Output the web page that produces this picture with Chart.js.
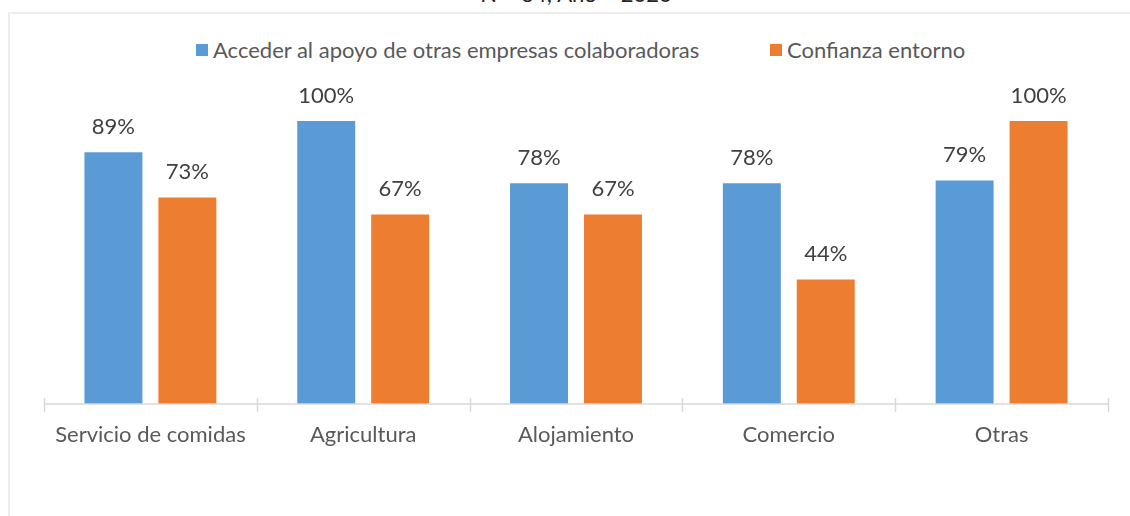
<!DOCTYPE html>
<html>
<head>
<meta charset="utf-8">
<script src="https://cdn.jsdelivr.net/npm/chart.js@4.4.1/dist/chart.umd.min.js"></script>
<style>
  html, body { margin: 0; padding: 0; background: #fff; }
  body { width: 1130px; height: 516px; position: relative; overflow: hidden; font-family: Lato, "Open Sans", sans-serif; }
  #frame { position: absolute; left: 8px; top: 12px; width: 1140px; height: 520px; border-left: 2px solid #ededed; border-top: 2px solid #ededed; }
  #title { position: absolute; top: -20px; left: 0; width: 1152px; text-align: center; font-size: 22px; color: #222; }
  #legend { position: absolute; top: 0; left: 0; font-size: 22px; color: #595959; }
  #legend .sw { width: 12px; height: 12px; margin-right: 5px; }
  #legend .item { position: absolute; top: 36px; display: flex; align-items: center; white-space: nowrap; }
  #wrap { position: absolute; left: 0; top: 0; width: 1130px; height: 516px; }
</style>
</head>
<body>
<div id="frame"></div>
<div id="title">N = 64; Año = 2020</div>
<div id="legend"></div>
<div id="wrap"><canvas id="barChart"></canvas></div>
<script>
// Categories and series values (percent)
const categories = ["Servicio de comidas", "Agricultura", "Alojamiento", "Comercio", "Otras"];
const seriesNames = ["Acceder al apoyo de otras empresas colaboradoras", "Confianza entorno"];
const apoyoValues = [89, 100, 78, 78, 79];
const confianzaValues = [73, 67, 67, 44, 100];
const seriesColors = ["#5B9BD5", "#ED7D31"];
const legendLeft = [196, 770];

const FONT = "Lato, 'Open Sans', sans-serif";

// Legend built from the series names
const legendEl = document.getElementById("legend");
seriesNames.forEach((name, i) => {
  const item = document.createElement("div");
  item.className = "item";
  item.style.left = legendLeft[i] + "px";
  item.innerHTML = '<span class="sw" style="background:' + seriesColors[i] + '"></span><span>' + name + "</span>";
  legendEl.appendChild(item);
});

// Draws "NN%" above every bar
const valueLabels = {
  id: "valueLabels",
  afterDatasetsDraw(chart) {
    const ctx = chart.ctx;
    ctx.save();
    ctx.font = "22px " + FONT;
    ctx.fillStyle = "#404040";
    ctx.textAlign = "center";
    ctx.textBaseline = "alphabetic";
    chart.data.datasets.forEach((ds, di) => {
      chart.getDatasetMeta(di).data.forEach((bar, i) => {
        ctx.fillText(ds.data[i] + "%", bar.x, bar.y - 18);
      });
    });
    ctx.restore();
  },
};

// Category separator ticks crossing the baseline
const catTicks = {
  id: "catTicks",
  afterDraw(chart) {
    const ctx = chart.ctx;
    const x = chart.scales.x;
    const base = chart.chartArea.bottom;
    ctx.save();
    ctx.strokeStyle = "#d9d9d9";
    ctx.lineWidth = 1.5;
    ctx.beginPath();
    ctx.moveTo(x.left, base);
    ctx.lineTo(x.right, base);
    const step = (x.right - x.left) / categories.length;
    for (let i = 0; i <= categories.length; i++) {
      const px = Math.round(x.left + step * i) + 0.5;
      ctx.moveTo(px, base - 6);
      ctx.lineTo(px, base + 8);
    }
    ctx.stroke();
    ctx.restore();
  },
};

const ctx = document.getElementById("barChart");
new Chart(ctx, {
  type: "bar",
  data: {
    labels: categories,
    datasets: [
      { label: seriesNames[0], data: apoyoValues, backgroundColor: seriesColors[0] },
      { label: seriesNames[1], data: confianzaValues, backgroundColor: seriesColors[1] },
    ],
  },
  options: {
    responsive: true,
    maintainAspectRatio: false,
    animation: false,
    categoryPercentage: 0.695,
    barPercentage: 0.784,
    layout: { padding: { left: 44, right: 22, top: 121, bottom: 0 } },
    plugins: {
      legend: { display: false },
      title: { display: false },
      tooltip: { enabled: false },
    },
    scales: {
      y: { display: false, min: 0, max: 100 },
      x: {
        grid: { display: false, drawTicks: false },
        border: { display: false },
        ticks: {
          color: "#595959",
          padding: 18,
          font: { size: 22, family: FONT },
          maxRotation: 0,
        },
        afterFit(scale) {
          scale.height = 112;
        },
      },
    },
  },
  plugins: [valueLabels, catTicks],
});
</script>
</body>
</html>
